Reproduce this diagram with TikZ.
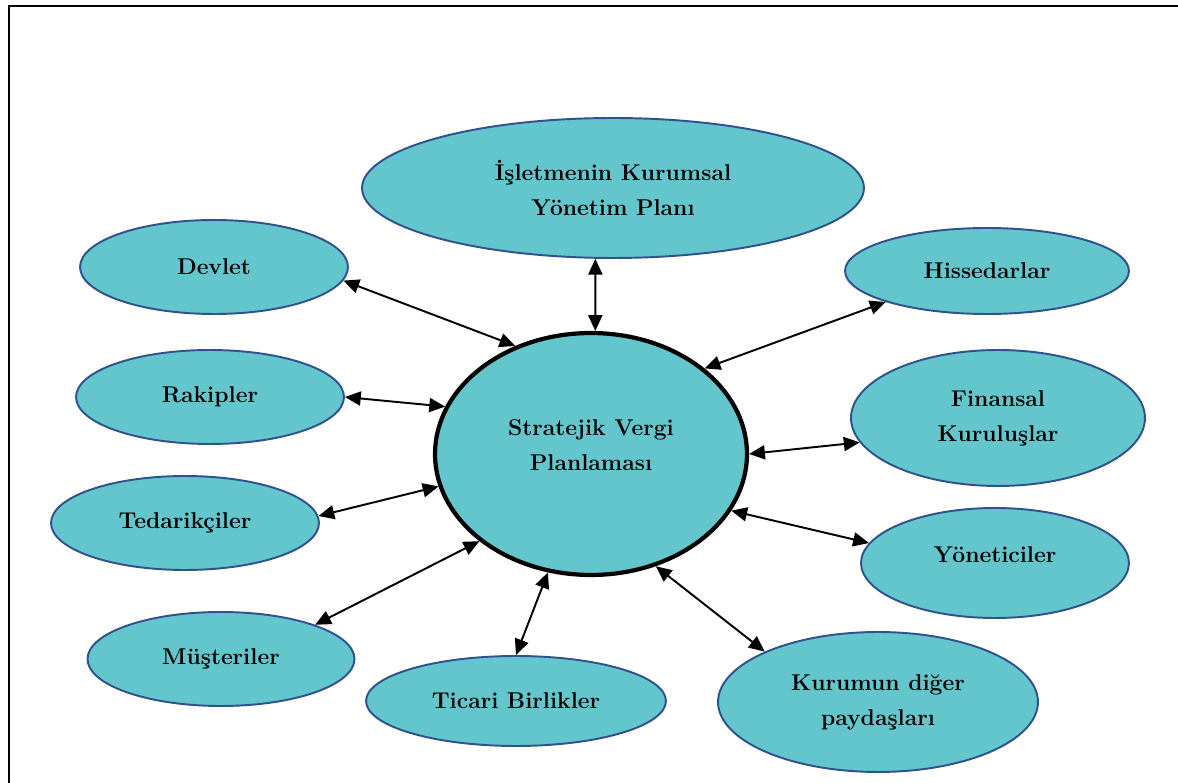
\documentclass[tikz,border=0pt]{standalone}
\usepackage{tikz}
\usetikzlibrary{shapes.geometric,arrows.meta}
\definecolor{bubblefill}{RGB}{99,198,204}
\definecolor{bubbleline}{RGB}{47,82,143}
\tikzset{
  bubble/.style={ellipse, draw=bubbleline, line width=1.1pt, fill=bubblefill,
    inner sep=0pt, align=center, font=\bfseries\fontsize{13}{20}\selectfont},
  link/.style={{Triangle[length=9pt,width=8pt]}-{Triangle[length=9pt,width=8pt]},
    line width=1.1pt}
}

\begin{document}
\begin{tikzpicture}[x=0.02cm,y=-0.02cm]
  \useasboundingbox (0,0) rectangle (1178,783);
  \draw [line width=1pt] (1200,6) -- (9,6) -- (9,800);
  \node (0) at (591,454)
    [bubble, draw=black, line width=2.4pt, minimum width=6.24cm, minimum height=4.84cm, text depth=10pt]
    {Stratejik Vergi\\Planlaması};
  \node (1) at (613,188)
    [bubble, minimum width=10.04cm, minimum height=2.8cm]
    {İşletmenin Kurumsal\\Yönetim Planı};
  \node (2) at (214,267)
    [bubble, minimum width=5.36cm, minimum height=1.88cm]
    {Devlet};
  \node (3) at (987,271)
    [bubble, minimum width=5.68cm, minimum height=1.72cm]
    {Hissedarlar};
  \node (4) at (210,397)
    [bubble, minimum width=5.36cm, minimum height=1.88cm]
    {Rakipler};
  \node (5) at (998,418)
    [bubble, minimum width=5.88cm, minimum height=2.72cm]
    {Finansal\\Kuruluşlar};
  \node (6) at (185,523)
    [bubble, minimum width=5.36cm, minimum height=1.88cm]
    {Tedarikçiler};
  \node (7) at (995,563)
    [bubble, minimum width=5.36cm, minimum height=2.2cm, text depth=10pt]
    {Yöneticiler};
  \node (8) at (221,659)
    [bubble, minimum width=5.34cm, minimum height=1.88cm]
    {Müşteriler};
  \node (9) at (516,701)
    [bubble, minimum width=6.0cm, minimum height=1.8cm]
    {Ticari Birlikler};
  \node (10) at (878,702)
    [bubble, minimum width=6.4cm, minimum height=2.8cm]
    {Kurumun diğer\\paydaşları};
  \draw [link] (1.256) to (0.88);
  \draw [link] (2.-6) to (0.125);
  \draw [link] (3.197) to (0.37);
  \draw [link] (4.0) to (0.162);
  \draw [link] (5.190) to (0.0);
  \draw [link] (6.3) to (0.192);
  \draw [link] (7.171) to (0.-22);
  \draw [link] (8.20) to (0.218);
  \draw [link] (9.90) to (0.250);
  \draw [link] (10.156) to (0.-60);
\end{tikzpicture}
\end{document}
